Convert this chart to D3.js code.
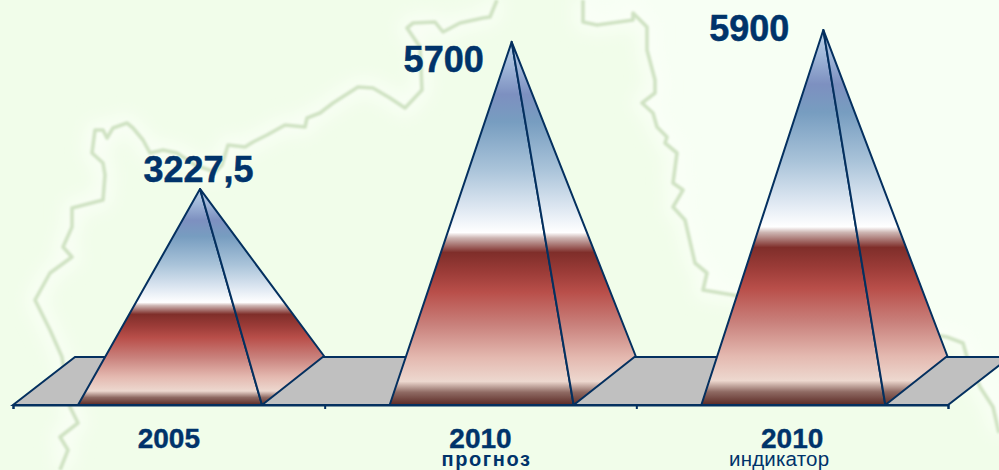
<!DOCTYPE html>
<html><head><meta charset="utf-8">
<script src="https://cdn.jsdelivr.net/npm/d3@7/dist/d3.min.js"></script>
<style>html,body{margin:0;padding:0;background:#f3fef0;overflow:hidden}svg{display:block}text{font-family:"Liberation Sans",Arial,sans-serif;fill:#00336a}</style>
</head><body><svg id="c" width="999" height="470"></svg>
<script>
const categories = ["2005", "2010", "2010"];
const subLabels = ["", "прогноз", "индикатор"];
const values = [3227.5, 5700, 5900];
const valueLabels = ["3227,5", "5700", "5900"];
// layout, separate from the data
const valueLabelDx = [-1.5, -68, -74];
const valueLabelDy = [-7, 30, 11];
const subWeights = ["bold", "bold", "normal"];
const subSizes = [0, 20, 20.5];
const subDx = [0, 6, -13];
const subSpacing = [0, 1.6, 0.2];
const stops = [[0,"#bcd3e8"],[.07,"#9fb6d8"],[.145,"#7d90c0"],[.22,"#779dc0"],[.35,"#a9c3d9"],[.46,"#dfe8f2"],[.525,"#ffffff"],[.54,"#cdb5b2"],[.58,"#7f2e2a"],[.635,"#9c3c38"],[.69,"#b94f4a"],[.78,"#c9817c"],[.87,"#e4b9b0"],[.935,"#edd8cf"],[.965,"#8f6a63"],[1,"#5b2a25"]];
const mapWest = [[497,0],[490,17],[483,18],[460,23],[443,32],[435,22],[413,23],[407,28],[420,47],[422,90],[405,108],[390,98],[373,88],[358,87],[333,103],[320,113],[307,118],[305,127],[285,125],[267,135],[253,142],[245,147],[228,145],[222,165],[215,172],[195,165],[177,153],[163,150],[150,153],[143,140],[133,128],[127,123],[113,128],[107,138],[103,130],[95,130],[92,153],[103,163],[105,175],[103,200],[72,208],[72,227],[63,247],[72,257],[50,273],[35,300],[50,330],[62,357],[70,407],[78,423],[60,437],[68,450],[60,470]];
const mapEast = [[583,0],[583,22],[597,25],[633,20],[633,13],[647,27],[647,50],[655,80],[655,93],[642,103],[653,113],[657,127],[667,137],[665,143],[677,153],[673,183],[683,190],[673,207],[685,220],[695,263],[707,273],[703,290],[733,295],[850,320],[947,337],[963,343],[967,357],[980,387],[993,407],[999,433]];

const W = 999, H = 470, base = 405, back = 357, depthX = 62;
const svg = d3.select("#c");
const x = d3.scaleLinear().domain([0, 3]).range([13, 948]);
const y = d3.scaleLinear().domain([0, 6000]).range([381, 24]);
const defs = svg.append("defs");
const g = defs.append("linearGradient").attr("id","pyr").attr("x1",0).attr("y1",0).attr("x2",0).attr("y2",1);
stops.forEach(s => g.append("stop").attr("offset", s[0]).attr("stop-color", s[1]));
defs.append("filter").attr("id","soft").append("feGaussianBlur").attr("stdDeviation",1.1);
defs.append("filter").attr("id","halo").append("feGaussianBlur").attr("stdDeviation",9);

const line = d3.line();
svg.append("rect").attr("width",W).attr("height",H).attr("fill","#f1fdea");
// lighter area outside the region outline
svg.append("path").attr("d", line([[583,0],...mapEast.slice(1),[999,470],[999,0]])+"Z").attr("fill","#f7fff4");
[mapWest, mapEast].forEach(m => {
  svg.append("path").attr("d", line(m)).attr("fill","none").attr("stroke","#fbfff8").attr("stroke-width",14).attr("filter","url(#halo)");
  svg.append("path").attr("d", line(m)).attr("fill","none").attr("stroke","#cfe2c2").attr("stroke-width",3.6).attr("stroke-linejoin","round").attr("filter","url(#soft)");
});

const ink = "#04305f";
// floor
svg.append("path").attr("d", line([[x(0),base],[x(0)+depthX,back],[x(3)+depthX,back],[x(3),base]])+"Z")
  .attr("fill","#c0c0c0").attr("stroke",ink).attr("stroke-width",2);
// axis
const axis = d3.axisBottom(x).tickValues([0,1,2,3]).tickSize(4).tickFormat("");
const ag = svg.append("g").attr("transform",`translate(0,${base})`).call(axis);
ag.selectAll("path,line").attr("stroke",ink).attr("stroke-width",2);

const bx = x(1) - x(0);
const fl = 65/bx, fr = 249/bx, fa = 187/bx;
values.forEach((v,i) => {
  const L = x(i+fl), R = x(i+fr), A = [x(i+fa), y(v)], B = [R+depthX, back-1];
  svg.append("path").attr("d", line([[L,base],[R,base],A])+"Z").attr("fill","url(#pyr)").attr("stroke",ink).attr("stroke-width",2).attr("stroke-linejoin","round");
  svg.append("path").attr("d", line([[R,base],B,A])+"Z").attr("fill","url(#pyr)").attr("stroke",ink).attr("stroke-width",2).attr("stroke-linejoin","round");
  svg.append("text").attr("x",A[0]+valueLabelDx[i]).attr("y",A[1]+valueLabelDy[i]).attr("text-anchor","middle")
    .attr("font-size",36).attr("font-weight","bold").attr("stroke","#00336a").attr("stroke-width",0.5).text(valueLabels[i]);
  svg.append("text").attr("x",x(i+.5)).attr("y",448).attr("text-anchor","middle")
    .attr("font-size",28).attr("font-weight","bold").attr("stroke","#00336a").attr("stroke-width",0.4).text(categories[i]);
  if (subLabels[i]) svg.append("text").attr("x",x(i+.5)+subDx[i]).attr("y",465.5).attr("text-anchor","middle")
    .attr("font-size",subSizes[i]).attr("font-weight",subWeights[i]).attr("letter-spacing",subSpacing[i]).text(subLabels[i]);
});
</script></body></html>
